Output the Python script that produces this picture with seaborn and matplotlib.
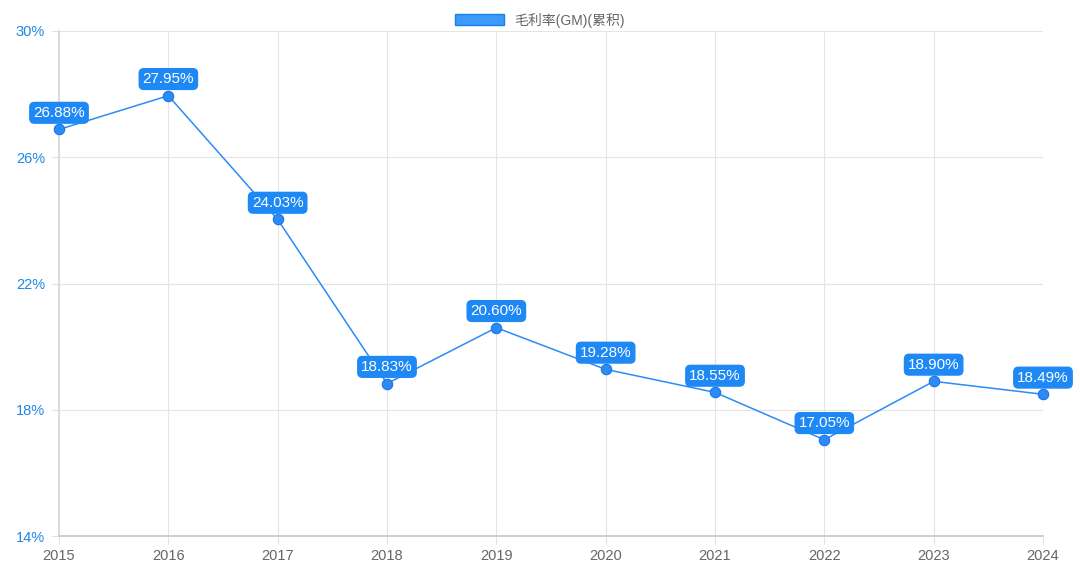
import numpy as np
import pandas as pd
import matplotlib
matplotlib.use('Agg')
import matplotlib.pyplot as plt
import matplotlib.patches as mpatches
import seaborn as sns

years = ['2015', '2016', '2017', '2018', '2019', '2020', '2021', '2022', '2023', '2024']
gm = [26.88, 27.95, 24.03, 18.83, 20.60, 19.28, 18.55, 17.05, 18.90, 18.49]
series_name = '毛利率(GM)(累积)'
y_ticks = [14, 18, 22, 26, 30]

sns.set_theme(style='white')
plt.rcParams['font.family'] = ['Liberation Sans', 'Noto Sans CJK SC', 'DejaVu Sans']

blue = '#2b8cf7'
df = pd.DataFrame({'year': np.arange(len(years)), 'gm': gm})

fig = plt.figure(figsize=(10.8, 5.75), dpi=100)
ax = fig.add_axes([59 / 1080, 39 / 575, (1043 - 59) / 1080, (536 - 31) / 575])

sns.lineplot(data=df, x='year', y='gm', ax=ax, color=blue, linewidth=1.1,
             marker='o', markersize=7.5, markerfacecolor=blue,
             markeredgecolor='#1a73e8', markeredgewidth=0.8, clip_on=False, zorder=3)

ax.set_xlim(0, len(years) - 1)
ax.set_ylim(14, 30)
ax.set_xticks(range(len(years)))
ax.set_xticklabels(years)
ax.set_yticks(y_ticks)
ax.set_yticklabels([f'{t}%' for t in y_ticks])
ax.set_xlabel('')
ax.set_ylabel('')

ax.grid(True, color='#e4e4e4', linewidth=0.8)
for s in ['top', 'right']:
    ax.spines[s].set_visible(False)
ax.spines['left'].set_color('#d9d9d9')
ax.spines['bottom'].set_color('#c8c8c8')
ax.tick_params(axis='x', colors='#e4e4e4', labelcolor='#666666', labelsize=10.5,
               length=6, width=0.8, pad=3, bottom=True)
ax.tick_params(axis='y', colors='#e4e4e4', labelcolor='#1e88e5', labelsize=10.5,
               length=6, width=0.8, pad=4, left=True)

for i, v in enumerate(gm):
    ax.annotate(f'{v:.2f}%', (i, v), xytext=(0, 12), textcoords='offset points',
                ha='center', va='center', color='white', fontsize=11,
                annotation_clip=False, zorder=5,
                bbox=dict(boxstyle='round,pad=0.22,rounding_size=0.3',
                          fc='#1e88f5', ec='#1e88f5'))

handle = mpatches.Patch(facecolor='#3d99fb', edgecolor='#1a80f0', linewidth=1)
fig.legend(handles=[handle], labels=[series_name], loc='upper center',
           bbox_to_anchor=(0.5, 1.0), frameon=False, fontsize=10,
           handlelength=3.5, handleheight=0.9, labelcolor='#666666')

fig.savefig('out.png', dpi=100)
